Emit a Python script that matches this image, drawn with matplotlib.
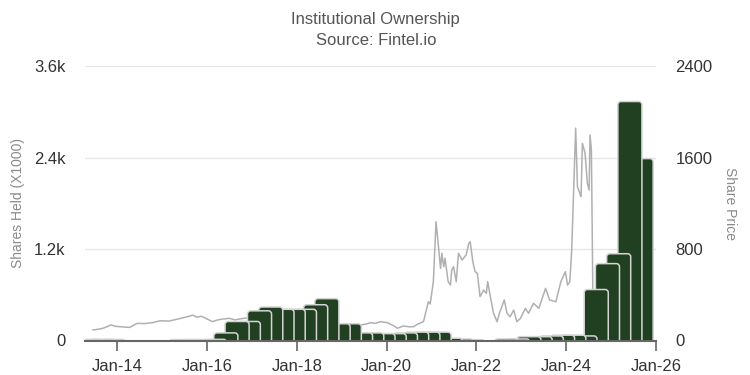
import matplotlib
matplotlib.use("Agg")
import matplotlib.pyplot as plt
from matplotlib.patches import FancyBboxPatch

plt.rcParams['font.family'] = ['Liberation Sans', 'DejaVu Sans']

# quarterly holdings, thousands of shares (axis shows X1000 as "k")
quarters = ['2013Q1', '2013Q2', '2013Q3', '2013Q4',
            '2014Q1', '2014Q2', '2014Q3', '2014Q4',
            '2015Q1', '2015Q2', '2015Q3', '2015Q4',
            '2016Q1', '2016Q2', '2016Q3', '2016Q4',
            '2017Q1', '2017Q2', '2017Q3', '2017Q4',
            '2018Q1', '2018Q2', '2018Q3', '2018Q4',
            '2019Q1', '2019Q2', '2019Q3', '2019Q4',
            '2020Q1', '2020Q2', '2020Q3', '2020Q4',
            '2021Q1', '2021Q2', '2021Q3', '2021Q4',
            '2022Q1', '2022Q2', '2022Q3', '2022Q4',
            '2023Q1', '2023Q2', '2023Q3', '2023Q4',
            '2024Q1', '2024Q2', '2024Q3', '2024Q4',
            '2025Q1', '2025Q2']
shares_held = [0.015, 0.015, 0.015, 0,
               0, 0, 0, 0,
               0.012, 0.012, 0.012, 0.015,
               0.10, 0.25, 0.25, 0.39,
               0.44, 0.41, 0.41, 0.41,
               0.47, 0.55, 0.22, 0.22,
               0.10, 0.10, 0.09, 0.09,
               0.10, 0.11, 0.11, 0.11,
               0.03, 0.02, 0.01, 0,
               0, 0.02, 0.02, 0.05,
               0.05, 0.06, 0.07, 0.07,
               0.06, 0.67, 1.01, 1.14,
               3.14, 2.39]

# share price (decimal year, price)
price_dates = [2013.46, 2013.6, 2013.7, 2013.86, 2013.95, 2014.14, 2014.28, 2014.44,
               2014.6, 2014.78, 2014.96, 2015.15, 2015.35, 2015.63, 2015.67, 2015.78,
               2015.85, 2015.9, 2016.12, 2016.23, 2016.35, 2016.5, 2016.62, 2016.74,
               2016.85, 2017.0, 2017.2, 2017.4, 2017.6, 2017.8, 2018.0, 2018.2,
               2018.4, 2018.6, 2018.75, 2018.9, 2019.1, 2019.3, 2019.42, 2019.55,
               2019.64, 2019.75, 2019.86, 2020.02, 2020.1, 2020.19, 2020.24, 2020.37,
               2020.5, 2020.6, 2020.69, 2020.82, 2020.93, 2020.97, 2021.04, 2021.1,
               2021.14, 2021.2, 2021.23, 2021.27, 2021.3, 2021.37, 2021.42, 2021.45,
               2021.49, 2021.55, 2021.6, 2021.68, 2021.77, 2021.83, 2021.86, 2021.92,
               2021.97, 2022.02, 2022.08, 2022.16, 2022.22, 2022.25, 2022.31, 2022.38,
               2022.46, 2022.51, 2022.62, 2022.68, 2022.75, 2022.83, 2022.9, 2022.98,
               2023.09, 2023.16, 2023.27, 2023.39, 2023.54, 2023.63, 2023.77, 2023.88,
               2023.98, 2024.03, 2024.08, 2024.12, 2024.18, 2024.21, 2024.25, 2024.33,
               2024.36, 2024.42, 2024.47, 2024.51, 2024.53, 2024.56, 2024.6, 2024.7,
               2024.8, 2024.88, 2024.95, 2025.05, 2025.2, 2025.3, 2025.45, 2025.55,
               2025.65, 2025.75]
price = [92, 100, 110, 136, 125, 118, 115, 150,
         148, 156, 173, 170, 188, 215, 223, 203,
         212, 208, 165, 180, 188, 194, 180, 190,
         195, 200, 190, 165, 150, 135, 130, 128,
         135, 145, 125, 130, 135, 140, 136, 145,
         156, 150, 165, 156, 140, 121, 107, 127,
         120, 121, 144, 165, 340, 320, 515, 1040,
         880, 632, 764, 646, 720, 515, 486, 617,
         646, 515, 764, 705, 749, 851, 866, 690,
         603, 589, 384, 442, 413, 515, 384, 238,
         165, 238, 355, 238, 208, 267, 165, 194,
         282, 238, 326, 282, 457, 355, 340, 515,
         603, 486, 515, 778, 1494, 1860, 1347, 1260,
         1727, 1640, 1377, 1318, 1800, 1669, 135, 150,
         220, 400, 350, 340, 290, 380, 390, 400,
         370, 330]

x_ticks = [2014, 2016, 2018, 2020, 2022, 2024, 2026]
x_labels = ['Jan-14', 'Jan-16', 'Jan-18', 'Jan-20', 'Jan-22', 'Jan-24', 'Jan-26']
share_ticks = [0, 1.2, 2.4, 3.6]
share_labels = ['0', '1.2k', '2.4k', '3.6k']
price_ticks = [0, 800, 1600, 2400]

bar_green = '#213f21'
bar_edge = '#d4d4d4'
line_grey = '#b0b0b0'

fig = plt.figure(figsize=(7.5, 3.75), dpi=100)
ax = fig.add_axes([0.1133, 0.092, 0.7614, 0.7307])
ax2 = ax.twinx()
# bars above the price line
ax.set_zorder(ax2.get_zorder() + 1)
ax.patch.set_visible(False)

# price line (right axis)
ax2.plot(price_dates, price, color=line_grey, lw=1.1)
ax2.set_ylim(0, 2400)
ax2.set_yticks(price_ticks)
ax2.yaxis.grid(True, color='#e6e6e6', lw=1)
ax2.set_axisbelow(True)

# quarterly bars, overlapping, earlier ones in front
n = len(quarters)
for i, (q, v) in enumerate(zip(quarters, shares_held)):
    if v <= 0:
        continue
    t = int(q[:4]) + (int(q[-1]) - 1) * 0.25
    p = FancyBboxPatch((t + 0.15, -0.1), 0.536, v + 0.1,
                       boxstyle='round,pad=0,rounding_size=0.07',
                       mutation_aspect=0.59,
                       facecolor=bar_green, edgecolor=bar_edge, lw=1.1,
                       zorder=2 + (n - i) * 0.01)
    ax.add_patch(p)

ax.set_xlim(2013.28, 2026.0)
ax.set_ylim(0, 3.6)
ax.set_yticks(share_ticks)
ax.set_yticklabels(share_labels)
ax.set_xticks(x_ticks)
ax.set_xticklabels(x_labels)

for a in (ax, ax2):
    for s in a.spines.values():
        s.set_visible(False)
ax.spines['bottom'].set_visible(True)
ax.spines['bottom'].set_color('#666666')
ax.spines['bottom'].set_linewidth(1.5)
ax.spines['bottom'].set_zorder(10)

ax.tick_params(axis='x', length=7.5, width=1.2, color='#666666', pad=6,
               labelsize=12, labelcolor='#333333')
ax.tick_params(axis='y', length=0, pad=14, labelsize=12, labelcolor='#333333')
ax2.tick_params(axis='y', length=0, pad=14, labelsize=12, labelcolor='#333333')

ax.set_ylabel('Shares Held (X1000)', color='#8a8a8a', fontsize=10, va='center')
ax.yaxis.set_label_coords(-0.117, 0.5)
ax2.set_ylabel('Share Price', color='#8a8a8a', fontsize=10, rotation=270, va='center')
ax2.yaxis.set_label_coords(1.13, 0.5)

fig.text(0.501, 0.947, 'Institutional Ownership', ha='center', va='center',
         fontsize=12, color='#555555')
fig.text(0.501, 0.891, 'Source: Fintel.io', ha='center', va='center',
         fontsize=12, color='#555555')

fig.savefig('out.png', dpi=100, facecolor='white')
